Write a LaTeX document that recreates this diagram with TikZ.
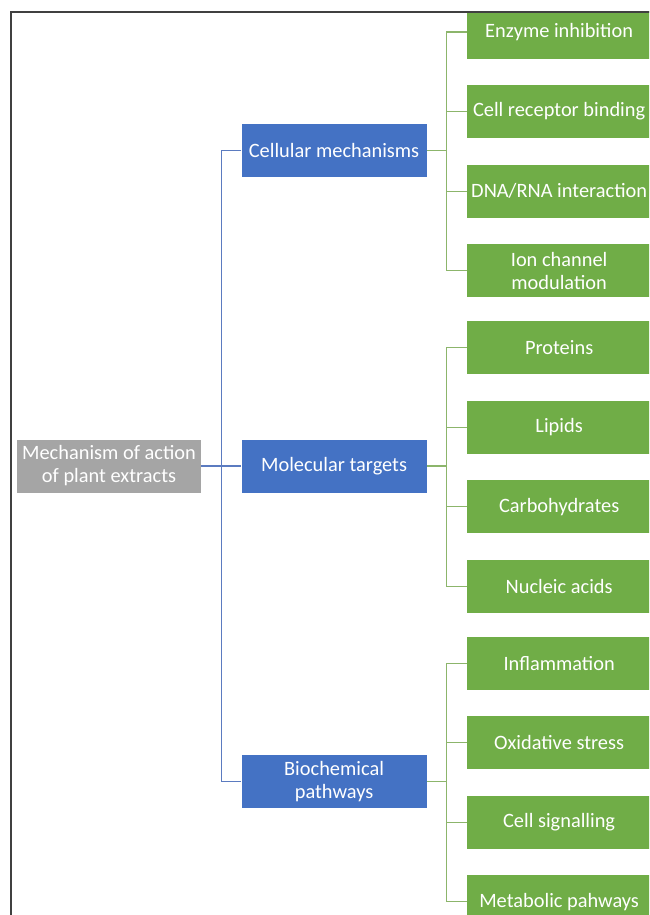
\documentclass[tikz,border=0pt]{standalone}
\usepackage{fontspec}
\setmainfont{Carlito}
\usetikzlibrary{positioning}

\definecolor{rootgray}{HTML}{A5A5A5}
\definecolor{mblue}{HTML}{4472C4}
\definecolor{lblue}{HTML}{5B7BC0}
\definecolor{mgreen}{HTML}{70AD47}
\definecolor{lgreen}{HTML}{8CB56B}

\begin{document}
\begin{tikzpicture}
        \tikzset{rootblock/.style={fill=rootgray, text=white, rectangle, align=center, inner sep=0pt, minimum width=4.6cm, minimum height=1.325cm, font=\fontsize{14.5}{16.3}\selectfont},
        bblock/.style={fill=mblue, text=white, rectangle, align=center, inner sep=0pt, minimum width=4.625cm, minimum height=1.325cm, font=\fontsize{14.5}{16.3}\selectfont},
        gblock/.style={fill=mgreen, text=white, rectangle, align=center, inner sep=0pt, minimum width=4.6cm, minimum height=1.325cm, font=\fontsize{14.5}{16.3}\selectfont},
        bline/.style={draw=lblue, line width=0.8pt},
        gline/.style={draw=lgreen, line width=0.8pt}
        }
        \clip (0,0) rectangle (16.225,-22.875);
        \begin{scope}
        \clip (0.275,-0.3) rectangle (17,-24);
        \node [rootblock] at (2.725,-11.65) (root) {Mechanism of action\\of plant extracts};
        \node [bblock, right =1cm of root] (mol) {Molecular targets};
        \node [bblock, above =6.55cm of mol] (cell) {Cellular mechanisms};
        \node [bblock, below =6.55cm of mol] (bio) {Biochemical\\pathways};

        \node [gblock, right =1cm of cell, yshift=2.96cm] (enz) {Enzyme inhibition};
        \node [gblock, below =0.65cm of enz] (rec) {Cell receptor binding};
        \node [gblock, below =0.65cm of rec] (dna) {DNA/RNA interaction};
        \node [gblock, below =0.65cm of dna] (ion) {Ion channel\\modulation};

        \node [gblock, right =1cm of mol, yshift=2.96cm] (prot) {Proteins};
        \node [gblock, below =0.65cm of prot] (lip) {Lipids};
        \node [gblock, below =0.65cm of lip] (carb) {Carbohydrates};
        \node [gblock, below =0.65cm of carb] (nuc) {Nucleic acids};

        \node [gblock, right =1cm of bio, yshift=2.96cm] (infl) {Inflammation};
        \node [gblock, below =0.65cm of infl] (oxi) {Oxidative stress};
        \node [gblock, below =0.65cm of oxi] (sig) {Cell signalling};
        \node [gblock, below =0.65cm of sig] (met) {Metabolic pahways};

%% paths
        \draw[bline] (root) -- (mol);
        \draw[bline] (cell.west) -- ++(-0.5,0) |- (bio.west);

        \foreach \parent/\first/\second/\third/\last in {cell/enz/rec/dna/ion, mol/prot/lip/carb/nuc, bio/infl/oxi/sig/met}
        {
            \draw[gline] (\parent.east) -- ++(0.5,0);
            \draw[gline] (\first.west) -- ++(-0.5,0) |- (\last.west);
            \draw[gline] (\second.west) -- ++(-0.5,0);
            \draw[gline] (\third.west) -- ++(-0.5,0);
        }
        \end{scope}
        \draw[draw=black!75, line width=1pt] (17,-0.3) -- (0.275,-0.3) -- (0.275,-24);
    \end{tikzpicture}
\end{document}
